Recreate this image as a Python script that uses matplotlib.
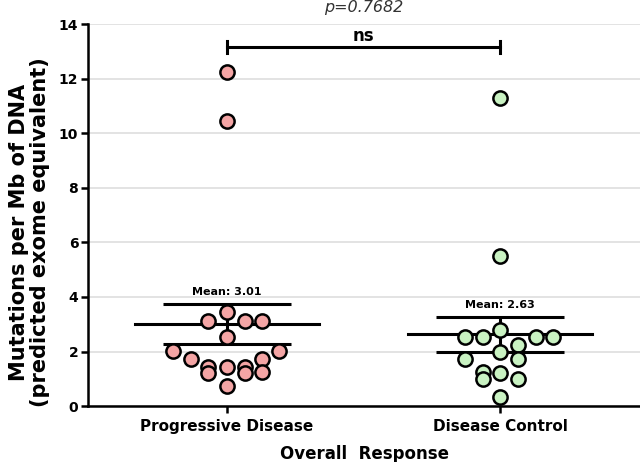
import numpy as np
import matplotlib
matplotlib.use("Agg")
import matplotlib.pyplot as plt

plt.rcParams['font.family'] = ['DejaVu Sans']

groups = ['Progressive Disease', 'Disease Control']
progressive = [12.25, 10.45, 3.45, 3.12, 3.12, 3.12, 2.52, 2.01, 2.01,
               1.71, 1.71, 1.42, 1.42, 1.42, 1.20, 1.20, 1.26, 0.73]
control = [11.30, 5.50, 2.80, 2.52, 2.52, 2.52, 2.52, 2.25, 1.97,
           1.72, 1.72, 1.26, 1.01, 1.20, 0.99, 0.35]
p_text = 'p=0.7682'
sig_text = 'ns'

# horizontal scatter of the dots (pixels in the original image)
prog_dx = [0, 0, 0, -18.7, 18.3, 35, 0, -54, 52,
           -36, 35, -18.7, 0, 18.3, -18.7, 18.3, 35, 0]
ctrl_dx = [0, 0, 0, -35, -16.7, 36, 53.3, 18.3, 0,
           -35, 18.3, -16.7, -16.7, 0, 18.3, 0]
px_per_unit = 273.0

colors = ['#f4a5a5', '#c9f2c2']

fig = plt.figure(figsize=(6.4, 4.62), dpi=100)
ax = fig.add_axes([0.1375, 0.121, 0.8625, 0.827])

for i, (vals, dx, c) in enumerate(zip([progressive, control], [prog_dx, ctrl_dx], colors)):
    vals = np.array(vals)
    xs = i + np.array(dx) / px_per_unit
    m = vals.mean()
    sem = vals.std(ddof=1) / np.sqrt(len(vals))
    ax.plot([i - 0.337, i + 0.337], [m, m], color='black', lw=2.2, zorder=3)
    ax.errorbar(i, m, yerr=sem, color='black', lw=2.2, capsize=46, capthick=2.2, zorder=3)
    ax.scatter(xs, vals, s=105, color=c, edgecolor='black', linewidth=1.8, zorder=4)
    ax.text(i, m + sem + 0.25, f'Mean: {m:.2f}', ha='center', va='bottom',
            fontsize=8, fontweight='bold')

# significance bracket
yb = 13.15
ax.plot([0, 1], [yb, yb], color='black', lw=2.2, clip_on=False)
ax.plot([0, 0], [yb - 0.22, yb + 0.22], color='black', lw=2.2, clip_on=False)
ax.plot([1, 1], [yb - 0.22, yb + 0.22], color='black', lw=2.2, clip_on=False)
ax.text(0.5, yb + 0.08, sig_text, ha='center', va='bottom', fontsize=12, fontweight='bold')
ax.text(0.5, 14.6, p_text, ha='center', va='center', fontsize=11.5, style='italic',
        clip_on=False, color='#333333')

ax.set_xlim(-0.509, 1.513)
ax.set_ylim(0, 14)
ax.set_yticks(np.arange(0, 15, 2))
ax.yaxis.grid(True, color='#e0e0e0', lw=1.3)
ax.set_axisbelow(True)
ax.set_xticks([0, 1])
ax.set_xticklabels(groups, fontsize=11, fontweight='bold')
for lab in ax.get_yticklabels():
    lab.set_fontweight('bold')
    lab.set_fontsize(10)
ax.tick_params(axis='both', width=1.8, length=5, pad=2)
ax.tick_params(axis='x', pad=4)
for s in ['top', 'right']:
    ax.spines[s].set_visible(False)
for s in ['left', 'bottom']:
    ax.spines[s].set_linewidth(1.8)

ax.set_ylabel('Mutations per Mb of DNA\n(predicted exome equivalent)', fontsize=15,
              fontweight='bold', linespacing=1.1)
ax.yaxis.set_label_coords(-0.068, 0.455)
ax.set_xlabel('Overall  Response', fontsize=12, fontweight='bold', labelpad=8)

fig.savefig('out.png', dpi=100)
